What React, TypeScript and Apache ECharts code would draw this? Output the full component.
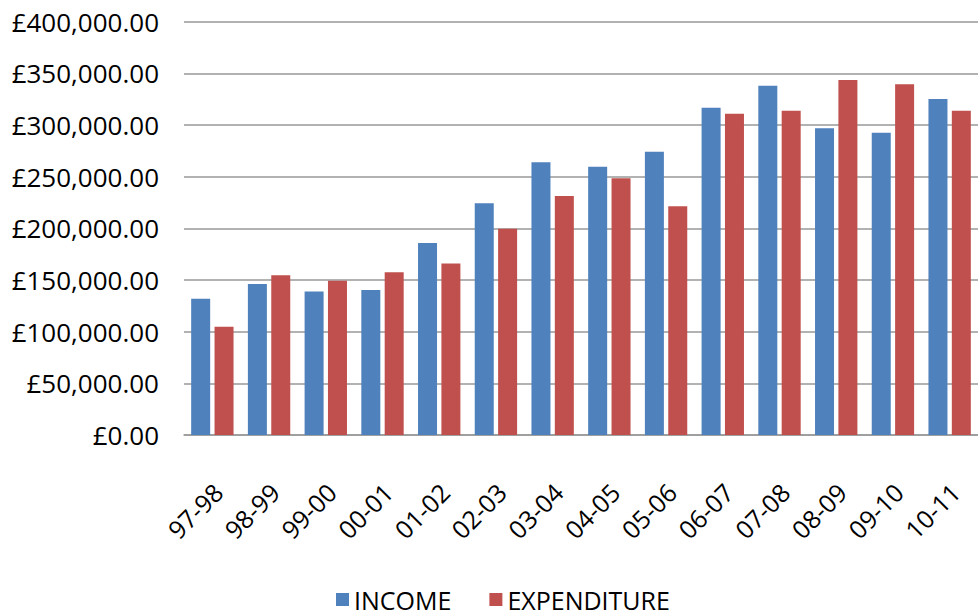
import React, { useEffect, useRef } from "react";
import * as echarts from "echarts";

const years = [
  "97-98", "98-99", "99-00", "00-01", "01-02", "02-03", "03-04",
  "04-05", "05-06", "06-07", "07-08", "08-09", "09-10", "10-11",
];
const income = [
  131900, 146100, 139000, 140300, 185800, 224200, 263900,
  259700, 274200, 316800, 338100, 296800, 292600, 325200,
];
const expenditure = [
  104800, 154500, 149400, 157400, 166100, 199700, 231300,
  248400, 221300, 311000, 313900, 343500, 339400, 313900,
];

const FONT = "'Open Sans', 'Liberation Sans', sans-serif";

const gbp = (v: number) =>
  "£" +
  v.toLocaleString("en-GB", { minimumFractionDigits: 2, maximumFractionDigits: 2 });

export default function App() {
  const ref = useRef<HTMLDivElement>(null);

  useEffect(() => {
    if (!ref.current) return;
    const chart = echarts.init(ref.current, null, { renderer: "svg" });
    chart.setOption({
      animation: false,
      textStyle: { fontFamily: FONT },
      grid: { left: 184, right: -6, top: 21.7, bottom: 181, containLabel: false },
      legend: {
        left: 336,
        top: 587,
        padding: 0,
        itemWidth: 13,
        itemHeight: 13,
        itemGap: 38,
        icon: "rect",
        textStyle: { fontSize: 25, lineHeight: 25, color: "#000", fontFamily: FONT },
        data: ["INCOME", "EXPENDITURE"],
      },
      xAxis: {
        type: "category",
        data: years,
        axisLine: { lineStyle: { color: "#999", width: 1.5 } },
        axisTick: { show: false },
        axisLabel: {
          rotate: 45,
          margin: 47,
          verticalAlign: "top",
          lineHeight: 16,
          fontSize: 25,
          color: "#000",
          fontFamily: FONT,
          interval: 0,
        },
      },
      yAxis: {
        type: "value",
        min: 0,
        max: 400000,
        interval: 50000,
        axisLine: { show: false },
        axisTick: { show: false },
        splitLine: { lineStyle: { color: "#999", width: 1.5 } },
        axisLabel: {
          margin: 25,
          fontSize: 26,
          color: "#000",
          fontFamily: FONT,
          formatter: (v: number) => gbp(v),
        },
      },
      series: [
        {
          name: "INCOME",
          type: "bar",
          data: income,
          barWidth: 19,
          barGap: "23%",
          itemStyle: { color: "#4F81BD" },
        },
        {
          name: "EXPENDITURE",
          type: "bar",
          data: expenditure,
          barWidth: 19,
          itemStyle: { color: "#C0504D" },
        },
      ],
    });
    return () => chart.dispose();
  }, []);

  return (
    <div
      ref={ref}
      style={{ position: "fixed", left: 0, top: 0, width: 978, height: 616, background: "#fff" }}
    />
  );
}
